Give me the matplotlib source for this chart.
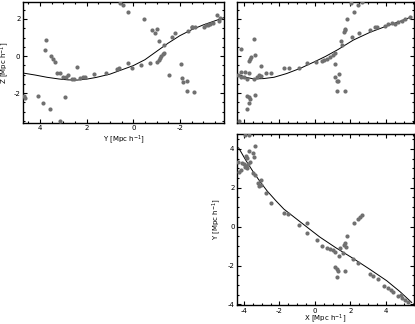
import matplotlib
matplotlib.use('Agg')
import matplotlib.pyplot as plt
from matplotlib.ticker import MultipleLocator, NullFormatter

# --- curve (filament axis) projections ---
cY1 = [4.73, 4.2, 3.7, 3.2, 2.8, 2.4, 2.0, 1.6, 1.0, 0.5, 0.0, -0.5, -1.0, -1.5, -2.0, -2.5, -3.0, -3.5, -3.93]
cZ1 = [-0.92, -1.03, -1.15, -1.24, -1.29, -1.3, -1.25, -1.16, -0.98, -0.75, -0.52, -0.2, 0.25, 0.7, 1.1, 1.42, 1.68, 1.9, 2.09]

cX2 = [-4.38, -3.9, -3.44, -2.9, -2.31, -1.6, -0.81, 0.0, 0.6, 1.3, 2.16, 3.1, 4.04, 4.8, 5.45]
cZ2 = [-0.97, -1.15, -1.24, -1.22, -1.15, -0.95, -0.66, -0.3, -0.02, 0.35, 0.86, 1.28, 1.62, 1.88, 2.12]

cX3 = [-4.3, -3.9, -3.44, -3.0, -2.69, -2.2, -1.75, -1.09, -0.4, 0.28, 1.2, 2.16, 3.1, 4.04, 4.8, 5.45]
cY3 = [4.05, 3.42, 2.76, 2.2, 1.83, 1.33, 0.9, 0.43, -0.06, -0.54, -1.1, -1.64, -2.2, -2.78, -3.35, -3.9]

# --- galaxies: Z vs Y ---
gY1 = [0.57, 0.43, 3.74, 3.77, 3.54, 3.46, 3.37, 2.40, 3.26, 3.14, 3.0, 2.89, 2.79, 2.64, 2.54, 2.29, 2.14, 2.06,
       1.69, 1.17, 0.69, 0.6, 4.69, 4.63, 4.07, 3.88, 3.57, 2.94, 3.14,
       0.21, -0.46, -0.8, -0.92, -1.03, -1.11, -1.31, -1.64, -1.8,
       -1.03, -1.09, -1.14, -1.2, -1.26, -1.31,
       0.21, 0.07, -0.32, -0.71, -2.03, -1.54, -2.09, -2.14, -2.29, -2.29, -2.6,
       -2.36, -2.5, -2.54, -2.64, -3.03, -3.11, -3.21, -3.31, -3.43, -3.57, -3.66, -3.71]
gZ1 = [2.88, 2.77, 0.86, 0.32, 0.0, -0.14, -0.31, -0.58, -0.9, -0.9, -1.15, -1.15, -1.04, -1.24, -1.23, -1.17, -1.12, -1.12,
       -0.97, -0.94, -0.7, -0.67, -2.16, -2.29, -2.16, -2.56, -2.88, -2.2, -3.5,
       2.38, 1.98, 1.41, 1.26, 1.48, 0.79, 0.58, 1.01, 1.26,
       -0.32, -0.22, -0.11, 0.0, 0.11, 0.18,
       -0.4, -0.66, -0.49, -0.36, -0.45, -1.03, -1.19, -1.41, -1.37, -1.89, -1.95,
       1.37, 1.58, 1.55, 1.55, 1.58, 1.66, 1.69, 1.73, 1.77, 2.2, 1.91, 2.04]

# --- galaxies: Z vs X ---
gX2 = [-4.15, -3.44, -3.4, -3.74, -3.66, -3.62, -3.03, -4.15, -3.93, -3.74, -4.34, -4.15, -4.0, -3.81, -3.44, -3.25,
       -3.14, -3.06, -2.78, -2.5, -1.75, -1.46, -0.9, -0.47, 0.04, 0.41, 0.51,
       -3.85, -3.74, -3.66, -3.7, -3.85, -3.4, -4.3,
       2.01, 2.44, 2.63, 2.2, 1.79, 1.67, 1.63, 1.71, 1.45, 1.52, 2.08, 2.46, 3.1, 3.38, 3.48,
       3.94, 4.13, 4.32, 4.51, 4.69, 4.88, 5.07, 5.35,
       0.66, 0.85, 1.0, 1.14, 1.11, 1.14, 1.26, 1.34, 1.3, 1.26, 1.71]
gZ2 = [0.36, 0.9, 0.04, -0.27, -0.15, -0.07, -0.54, -0.88, -0.85, -0.9, -1.03, -1.15, -1.15, -1.23, -1.23, -1.12,
       -1.04, -1.08, -0.94, -0.9, -0.67, -0.67, -0.63, -0.36, -0.32, -0.27, -0.22,
       -2.16, -2.2, -2.31, -2.52, -2.85, -2.12, -3.5,
       2.88, 2.74, 2.92, 2.38, 1.98, 1.48, 1.31, 1.41, 0.83, 0.61, 1.01, 1.26, 1.41, 1.58, 1.55,
       1.62, 1.73, 1.77, 1.73, 1.84, 1.91, 1.98, 2.09,
       -0.18, -0.07, 0.04, 0.18, -0.43, -1.15, -1.37, -0.97, -1.34, -1.91, -1.88]

# --- galaxies: Y vs X ---
gX3 = [-3.93, -3.7, -3.4, -3.7, -3.48, -3.44, -3.89, -3.81, -4.34, -4.11, -4.0, -3.89, -3.77, -3.66, -3.96, -3.81,
       -4.26, -4.15, -3.48, -3.4, -3.21, -3.03, -3.14, -3.06, -2.78, -2.5, -1.75, -1.52, -0.9, -0.47, -0.47,
       0.1, 0.41, 0.66, 0.85, 1.0, 1.14, 1.34, 1.56, 1.41, 1.63, 1.67, 1.75, 1.79, 2.2, 2.44, 2.54, 2.65,
       1.11, 1.26, 1.3, 1.22, 1.71, 2.12, 2.44, 3.1, 3.28, 3.57, 3.89, 4.13, 4.26, 4.41, 4.69, 4.83, 4.89, 5.07, 5.26]
gY3 = [4.7, 4.7, 4.15, 3.91, 3.78, 3.58, 3.61, 3.51, 3.34, 3.27, 3.2, 3.14, 3.2, 3.34, 3.07, 3.0,
       2.83, 2.9, 2.76, 2.66, 2.26, 2.39, 2.08, 2.15, 1.71, 1.2, 0.7, 0.64, 0.1, 0.2, -0.31,
       -0.68, -1.02, -1.12, -1.15, -1.19, -1.32, -1.53, -1.36, -1.12, -0.92, -0.85, -1.05, -0.47, 0.2, 0.37, 0.51, 0.61,
       -2.07, -2.2, -2.3, -2.61, -2.3, -1.69, -1.86, -2.44, -2.54, -2.71, -3.05, -3.15, -3.25, -3.36, -3.59, -3.49, -3.69, -3.79, -3.86]

plt.rcParams['font.family'] = 'DejaVu Sans'
plt.rcParams['axes.unicode_minus'] = False
fs = 5.0
dotcol = '#707070'
lab = 'Mpc h$^{-1}$'

fig = plt.figure(figsize=(4.15, 3.24), dpi=100)
ax1 = fig.add_axes([0.0554, 0.6204, 0.4843, 0.3735])
ax2 = fig.add_axes([0.5711, 0.6204, 0.4265, 0.3735])
ax3 = fig.add_axes([0.5711, 0.0586, 0.4265, 0.5278])

def styl(ax):
    ax.xaxis.set_major_locator(MultipleLocator(2))
    ax.xaxis.set_minor_locator(MultipleLocator(0.5))
    ax.yaxis.set_major_locator(MultipleLocator(2))
    ax.yaxis.set_minor_locator(MultipleLocator(0.5))
    ax.tick_params(which='both', direction='in', top=True, right=True, labelsize=fs, pad=1.8, width=0.8)
    ax.tick_params(which='major', length=3)
    ax.tick_params(which='minor', length=1.5)
    for s in ax.spines.values():
        s.set_linewidth(1.0)

def labels(ax, xl, yl, xy, yx):
    ax.set_xlabel(xl, fontsize=fs, va='center')
    ax.set_ylabel(yl, fontsize=fs, va='center')
    ax.xaxis.set_label_coords(0.5, xy)
    ax.yaxis.set_label_coords(yx, 0.5)

# Z vs Y
ax1.plot(cY1, cZ1, color='k', lw=0.7)
ax1.scatter(gY1, gZ1, s=9, color=dotcol, lw=0, zorder=3)
ax1.set_xlim(4.73, -3.89)
ax1.set_ylim(-3.62, 2.92)
styl(ax1)
labels(ax1, 'Y [' + lab + ']', 'Z [' + lab + ']', -0.14, -0.09)

# Z vs X
ax2.plot(cX2, cZ2, color='k', lw=0.7)
ax2.scatter(gX2, gZ2, s=9, color=dotcol, lw=0, zorder=3)
ax2.set_xlim(-4.39, 5.58)
ax2.set_ylim(-3.62, 2.92)
styl(ax2)
ax2.xaxis.set_major_formatter(NullFormatter())
ax2.yaxis.set_major_formatter(NullFormatter())

# Y vs X
ax3.plot(cX3, cY3, color='k', lw=0.7)
ax3.scatter(gX3, gY3, s=9, color=dotcol, lw=0, zorder=3)
ax3.set_xlim(-4.39, 5.58)
ax3.set_ylim(-4.03, 4.76)
styl(ax3)
labels(ax3, 'X [' + lab + ']', 'Y [' + lab + ']', -0.08, -0.118)

fig.savefig('out.png', dpi=100)
